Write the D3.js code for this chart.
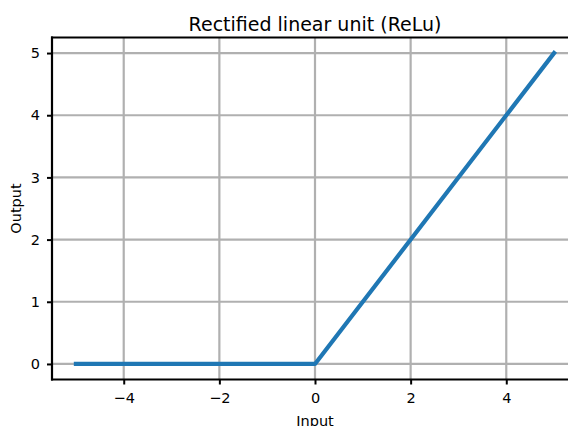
<!DOCTYPE html>
<html>
<head>
<meta charset="utf-8">
<script src="https://cdn.jsdelivr.net/npm/d3@7"></script>
<style>
  html, body { margin: 0; padding: 0; background: #fff; }
  svg { display: block; font-family: "DejaVu Sans", sans-serif; }
</style>
</head>
<body>
<svg id="chart" width="568" height="426"></svg>
<script>
// ReLU sampled at its breakpoints
const inputs = [-5, 0, 5];
const outputs = [0, 0, 5];
const xTicks = [-4, -2, 0, 2, 4];
const yTicks = [0, 1, 2, 3, 4, 5];
const titleText = "Rectified linear unit (ReLu)";
const xLabel = "Input";
const yLabel = "Output";

const svg = d3.select("#chart");
const plotLeft = 52, plotRight = 578, plotTop = 37.5, plotBottom = 379.5;

const x = d3.scaleLinear().domain([-5.5, 5.5]).range([plotLeft, plotRight]);
const y = d3.scaleLinear().domain([-0.25, 5.25]).range([plotBottom, plotTop]);

const gridColor = "#b0b0b0";
const tickFont = 14.5;

// grid
svg.append("g").selectAll("line").data(xTicks).join("line")
  .attr("x1", d => x(d)).attr("x2", d => x(d))
  .attr("y1", plotTop).attr("y2", plotBottom)
  .attr("stroke", gridColor).attr("stroke-width", 2.2);
svg.append("g").selectAll("line").data(yTicks).join("line")
  .attr("x1", plotLeft).attr("x2", plotRight)
  .attr("y1", d => y(d)).attr("y2", d => y(d))
  .attr("stroke", gridColor).attr("stroke-width", 2.2);

// line
const line = d3.line().x(d => x(d[0])).y(d => y(d[1]));
svg.append("path")
  .datum(inputs.map((v, i) => [v, outputs[i]]))
  .attr("d", line)
  .attr("fill", "none")
  .attr("stroke", "#1f77b4")
  .attr("stroke-width", 4.2)
  .attr("stroke-linecap", "square")
  .attr("stroke-linejoin", "round");

// axes
const xAxis = d3.axisBottom(x).tickValues(xTicks).tickSize(5).tickPadding(8)
  .tickFormat(d => d < 0 ? "\u2212" + Math.abs(d) : String(d));
const yAxis = d3.axisLeft(y).tickValues(yTicks).tickSize(5).tickPadding(7)
  .tickFormat(d3.format("d"));

const gx = svg.append("g").attr("transform", `translate(0,${plotBottom})`).call(xAxis);
const gy = svg.append("g").attr("transform", `translate(${plotLeft},0)`).call(yAxis);
[gx, gy].forEach(g => {
  g.select(".domain").remove();
  g.selectAll(".tick line").attr("stroke", "#000").attr("stroke-width", 2);
  g.selectAll(".tick text").attr("fill", "#000").attr("font-size", tickFont)
    .attr("font-family", "DejaVu Sans, sans-serif");
});

// spines
svg.append("line").attr("x1", plotLeft).attr("x2", plotLeft).attr("y1", plotTop - 1).attr("y2", plotBottom + 1)
  .attr("stroke", "#000").attr("stroke-width", 2.2);
svg.append("line").attr("x1", plotLeft - 1).attr("x2", plotRight).attr("y1", plotBottom).attr("y2", plotBottom)
  .attr("stroke", "#000").attr("stroke-width", 2.2);
svg.append("line").attr("x1", plotLeft - 1).attr("x2", plotRight).attr("y1", plotTop).attr("y2", plotTop)
  .attr("stroke", "#000").attr("stroke-width", 2.2);

// labels
const cx = x(0);
svg.append("text").attr("x", cx).attr("y", 31).attr("text-anchor", "middle")
  .attr("font-size", 19).text(titleText);
svg.append("text").attr("x", cx).attr("y", 425.5).attr("text-anchor", "middle")
  .attr("font-size", 14.5).text(xLabel);
svg.append("text").attr("transform", `translate(21,${y(2.5)}) rotate(-90)`)
  .attr("text-anchor", "middle").attr("font-size", 14.5).text(yLabel);
</script>
</body>
</html>
